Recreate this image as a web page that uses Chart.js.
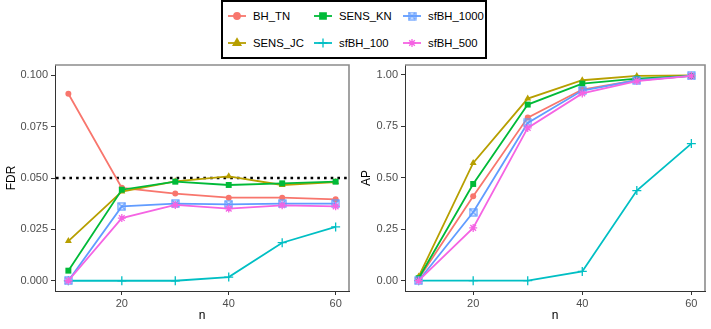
<!DOCTYPE html>
<html>
<head>
<meta charset="utf-8">
<script src="https://cdn.jsdelivr.net/npm/chart.js@4.4.1/dist/chart.umd.min.js"></script>
<style>
  body { margin: 0; background: #fff; font-family: "Liberation Sans", Arial, sans-serif; }
  #wrap { position: relative; width: 711px; height: 329px; overflow: hidden; }
  canvas.panel { position: absolute; top: 0; }
  #legend {
    position: absolute; left: 221px; top: 0; width: 262px; height: 55px;
    border: 2px solid #000; background: #fff;
  }
  .item { position: absolute; height: 14px; font-size: 11.3px; color: #000; line-height: 14px; }
  .item canvas { position: absolute; left: 0; top: 0; }
  .item span { position: absolute; left: 26px; top: 0; white-space: nowrap; }
</style>
</head>
<body>
<div id="wrap">
  <canvas id="fdrChart" class="panel" width="355" height="329" style="left:0"></canvas>
  <canvas id="apChart" class="panel" width="356" height="329" style="left:355px"></canvas>
  <div id="legend"></div>
</div>
<script>
// data
const nValues = [10, 20, 30, 40, 50, 60];
const seriesNames = ["BH_TN", "SENS_JC", "SENS_KN", "sfBH_100", "sfBH_1000", "sfBH_500"];

const fdrBH_TN = [0.0910, 0.0452, 0.0424, 0.0404, 0.0404, 0.0396];
const fdrSENS_JC = [0.0193, 0.0434, 0.0484, 0.0508, 0.0466, 0.0480];
const fdrSENS_KN = [0.0049, 0.0443, 0.0482, 0.0466, 0.0474, 0.0482];
const fdrSfBH_100 = [0.0, 0.0, 0.0, 0.0018, 0.0185, 0.0262];
const fdrSfBH_1000 = [0.0, 0.0362, 0.0375, 0.0372, 0.0375, 0.0375];
const fdrSfBH_500 = [0.0, 0.0305, 0.0369, 0.0351, 0.0367, 0.0362];

const apBH_TN = [0.010, 0.409, 0.791, 0.927, 0.972, 0.993];
const apSENS_JC = [0.020, 0.571, 0.883, 0.972, 0.993, 0.995];
const apSENS_KN = [0.012, 0.469, 0.854, 0.956, 0.980, 0.993];
const apSfBH_100 = [0.0, 0.0, 0.0, 0.045, 0.437, 0.665];
const apSfBH_1000 = [0.0, 0.332, 0.765, 0.922, 0.972, 0.993];
const apSfBH_500 = [0.0, 0.256, 0.741, 0.908, 0.968, 0.993];

const xTicks = [20, 40, 60];
const fdrTicks = [0, 0.025, 0.05, 0.075, 0.1];
const apTicks = [0, 0.25, 0.5, 0.75, 1];
const fdrTarget = 0.05;

const colors = ["#F8766D", "#B79F00", "#00BA38", "#00BFC4", "#619CFF", "#F564E3"];

// open square with an x inside, like ggplot shape 7
function boxedX(color) {
  const c = document.createElement("canvas");
  c.width = 9; c.height = 9;
  const g = c.getContext("2d");
  g.strokeStyle = color;
  g.lineWidth = 1.2;
  g.strokeRect(1, 1, 7, 7);
  g.beginPath();
  g.moveTo(1, 1); g.lineTo(8, 8);
  g.moveTo(8, 1); g.lineTo(1, 8);
  g.stroke();
  return c;
}

const shapes = [
  { style: "circle", radius: 3, fill: true },
  { style: "triangle", radius: 4, fill: true },
  { style: "rect", radius: 4.2, fill: true },
  { style: "cross", radius: 4.5, fill: false },
  { style: boxedX(colors[4]), radius: 4.5, fill: false },
  { style: "star", radius: 4, fill: false },
];

function makeDatasets(valueLists) {
  return valueLists.map((vals, i) => ({
    label: seriesNames[i],
    data: nValues.map((n, j) => ({ x: n, y: vals[j] })),
    borderColor: colors[i],
    backgroundColor: colors[i],
    borderWidth: 1.8,
    pointStyle: shapes[i].style,
    pointRadius: shapes[i].radius,
    pointBorderWidth: shapes[i].fill ? 0 : 1.3,
    pointBackgroundColor: colors[i],
    pointBorderColor: colors[i],
    tension: 0,
    order: valueLists.length - i,
  }));
}

const frame = {
  id: "frame",
  afterDraw(chart) {
    const a = chart.chartArea, ctx = chart.ctx;
    ctx.save();
    ctx.strokeStyle = "#8c8c8c";
    ctx.lineWidth = 1.6;
    ctx.beginPath();
    ctx.moveTo(a.left, a.top); ctx.lineTo(a.right, a.top); ctx.lineTo(a.right, a.bottom);
    ctx.stroke();
    ctx.restore();
  }
};

const targetLine = {
  id: "targetLine",
  beforeDatasetsDraw(chart, args, opts) {
    if (opts.value == null) return;
    const a = chart.chartArea, ctx = chart.ctx;
    const y = chart.scales.y.getPixelForValue(opts.value);
    ctx.save();
    ctx.strokeStyle = "#000";
    ctx.lineWidth = 2.6;
    ctx.setLineDash([2.6, 4.1]);
    ctx.beginPath();
    ctx.moveTo(a.left + 1, y); ctx.lineTo(a.right, y);
    ctx.stroke();
    ctx.restore();
  }
};

function makeChart(id, valueLists, yTicks, yMin, yMax, yTitle, yWidth, tickFmt, target) {
  return new Chart(document.getElementById(id), {
    type: "line",
    data: { datasets: makeDatasets(valueLists) },
    options: {
      responsive: false,
      animation: false,
      layout: { padding: { top: 65, right: 6, left: 0, bottom: 0 } },
      plugins: { legend: { display: false }, tooltip: { enabled: false }, targetLine: { value: target } },
      scales: {
        x: {
          type: "linear", min: 7.5, max: 62.5,
          afterBuildTicks: (s) => { s.ticks = xTicks.map((v) => ({ value: v })); },
          afterFit: (s) => { s.height = 38; },
          grid: { drawOnChartArea: false, drawTicks: true, tickLength: 4, color: "#333" },
          border: { display: true, color: "#333", width: 1 },
          ticks: { color: "#4D4D4D", font: { family: "Liberation Sans", size: 11 }, padding: 2, maxRotation: 0 },
          title: { display: true, text: "n", color: "#000", font: { family: "Liberation Sans", size: 12 }, padding: { top: 0, bottom: 6 } },
        },
        y: {
          type: "linear", min: yMin, max: yMax,
          afterBuildTicks: (s) => { s.ticks = yTicks.map((v) => ({ value: v })); },
          afterFit: (s) => { s.width = yWidth; },
          grid: { drawOnChartArea: false, drawTicks: true, tickLength: 4, color: "#333" },
          border: { display: true, color: "#333", width: 1 },
          ticks: { color: "#4D4D4D", font: { family: "Liberation Sans", size: 11 }, padding: 3, callback: tickFmt },
          title: { display: true, text: yTitle, color: "#000", font: { family: "Liberation Sans", size: 12 }, padding: { top: 4, bottom: 0 } },
        },
      },
    },
    plugins: [frame, targetLine],
  });
}

makeChart("fdrChart",
  [fdrBH_TN, fdrSENS_JC, fdrSENS_KN, fdrSfBH_100, fdrSfBH_1000, fdrSfBH_500],
  fdrTicks, -0.005, 0.105, "FDR", 55, (v) => v.toFixed(3), fdrTarget);

makeChart("apChart",
  [apBH_TN, apSENS_JC, apSENS_KN, apSfBH_100, apSfBH_1000, apSfBH_500],
  apTicks, -0.05, 1.046, "AP", 50, (v) => v.toFixed(2), null);

// legend: 3 columns x 2 rows, filled column by column like ggplot
const legend = document.getElementById("legend");
const colX = [4, 90, 179];
const rowY = [7, 34];
seriesNames.forEach((name, i) => {
  const item = document.createElement("div");
  item.className = "item";
  item.style.left = colX[Math.floor(i / 2)] + "px";
  item.style.top = rowY[i % 2] + "px";
  const key = document.createElement("canvas");
  key.width = 20; key.height = 14;
  const g = key.getContext("2d");
  g.strokeStyle = colors[i];
  g.fillStyle = colors[i];
  g.lineWidth = 1.8;
  g.beginPath(); g.moveTo(1, 7); g.lineTo(19, 7); g.stroke();
  g.lineWidth = shapes[i].fill ? 0 : 1.3;
  Chart.helpers.drawPoint(g, { pointStyle: shapes[i].style, radius: shapes[i].radius, rotation: 0, borderWidth: g.lineWidth }, 10, 7);
  const label = document.createElement("span");
  label.textContent = name;
  item.appendChild(key);
  item.appendChild(label);
  legend.appendChild(item);
});
</script>
</body>
</html>
